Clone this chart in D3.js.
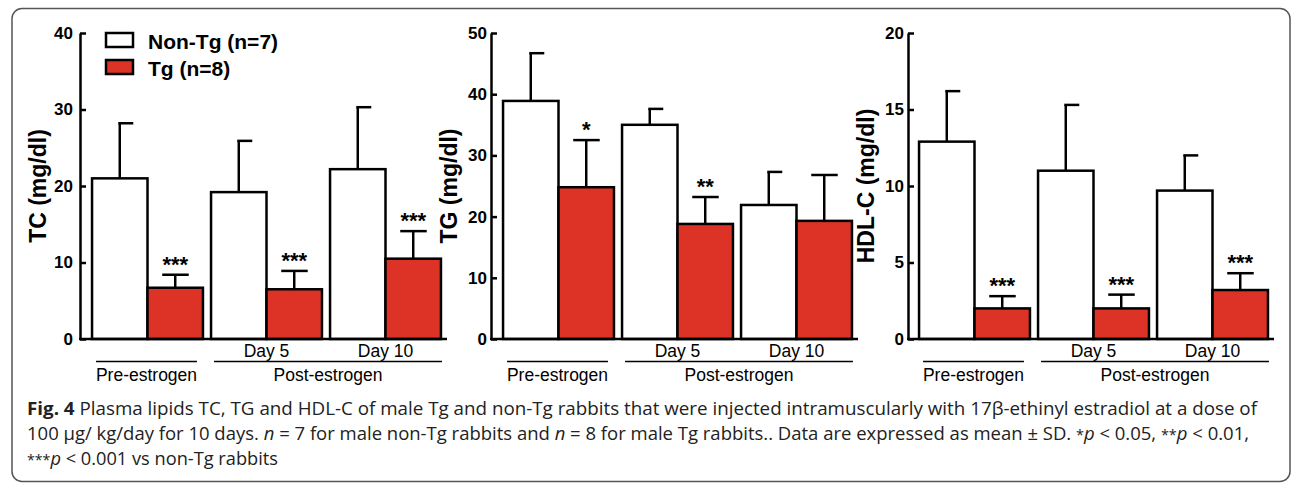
<!DOCTYPE html>
<html>
<head>
<meta charset="utf-8">
<script src="https://cdn.jsdelivr.net/npm/d3@7"></script>
<style>
  body { margin: 0; background: #fff; }
  svg { display: block; }
  .tick text { font-family: "Liberation Sans", Arial, sans-serif; font-weight: bold; font-size: 17px; fill: #000; }
</style>
</head>
<body>
<div id="chart"></div>
<script>
// ---- data ----
const groups = ["Pre-estrogen", "Day 5", "Day 10"];
const seriesNames = ["Non-Tg (n=7)", "Tg (n=8)"];

const tcNonTg = [21.0, 19.2, 22.2];
const tcNonTgSD = [7.2, 6.7, 8.1];
const tcTg = [6.7, 6.5, 10.5];
const tcTgSD = [1.7, 2.4, 3.6];
const tcStars = ["***", "***", "***"];

const tgNonTg = [38.9, 35.0, 21.9];
const tgNonTgSD = [7.8, 2.6, 5.4];
const tgTg = [24.8, 18.8, 19.3];
const tgTgSD = [7.7, 4.4, 7.5];
const tgStars = ["*", "**", ""];

const hdlNonTg = [12.9, 11.0, 9.7];
const hdlNonTgSD = [3.3, 4.3, 2.3];
const hdlTg = [2.0, 2.0, 3.2];
const hdlTgSD = [0.8, 0.9, 1.1];
const hdlStars = ["***", "***", "***"];

const yTitles = ["TC (mg/dl)", "TG (mg/dl)", "HDL-C (mg/dl)"];
const yMax = [40, 50, 20];
const yTickStep = [10, 10, 5];

const colors = { "Non-Tg (n=7)": "#ffffff", "Tg (n=8)": "#dd3326" };

const panels = [
    { title: yTitles[0], max: yMax[0], step: yTickStep[0], non: tcNonTg, nonSD: tcNonTgSD, tg: tcTg, tgSD: tcTgSD, stars: tcStars },
    { title: yTitles[1], max: yMax[1], step: yTickStep[1], non: tgNonTg, nonSD: tgNonTgSD, tg: tgTg, tgSD: tgTgSD, stars: tgStars },
    { title: yTitles[2], max: yMax[2], step: yTickStep[2], non: hdlNonTg, nonSD: hdlNonTgSD, tg: hdlTg, tgSD: hdlTgSD, stars: hdlStars }
];

// layout
const W = 1292, H = 483;
const axisX = [80, 491, 908];
const plotLeft = [88, 499, 915];
const plotW = 357;
const tickPad = [7, 4, 4];
const yTop = 33, yBottom = 339;
const font = '"Liberation Sans", Arial, sans-serif';

const svg = d3.select('#chart').append('svg')
    .attr('width', W)
    .attr('height', H);

// rounded frame
svg.append('rect')
    .attr('x', 12).attr('y', 8.5)
    .attr('width', 1278).attr('height', 473)
    .attr('rx', 10)
    .attr('fill', 'none')
    .attr('stroke', '#555')
    .attr('stroke-width', 1.5);

panels.forEach((p, i) => {
    let g = svg.append('g');

    let yScale = d3.scaleLinear()
        .domain([0, p.max])
        .range([yBottom, yTop]);

    let xScale = d3.scaleBand()
        .domain(groups)
        .range([plotLeft[i], plotLeft[i] + plotW])
        .paddingInner(0.068)
        .paddingOuter(0.034);

    let xSub = d3.scaleBand()
        .domain(seriesNames)
        .range([0, xScale.bandwidth()]);

    let rows = [];
    groups.forEach((grp, j) => {
        rows.push({ group: grp, series: seriesNames[0], mean: p.non[j], sd: p.nonSD[j], star: "" });
        rows.push({ group: grp, series: seriesNames[1], mean: p.tg[j], sd: p.tgSD[j], star: p.stars[j] });
    });

    // error bars (drawn first so bar outline sits on top)
    rows.forEach(d => {
        let cx = xScale(d.group) + xSub(d.series) + xSub.bandwidth() / 2;
        let top = yScale(d.mean + d.sd);
        g.append('line')
            .attr('x1', cx).attr('x2', cx)
            .attr('y1', yScale(d.mean)).attr('y2', top)
            .attr('stroke', '#000').attr('stroke-width', 2.5);
        let c0 = d.series === seriesNames[0] ? cx - 1.5 : cx - 13;
        g.append('line')
            .attr('x1', c0).attr('x2', cx + 13.5)
            .attr('y1', top).attr('y2', top)
            .attr('stroke', '#000').attr('stroke-width', 2.5);
        if (d.star) {
            g.append('text')
                .attr('x', cx).attr('y', top - 3)
                .attr('text-anchor', 'middle')
                .attr('font-family', font)
                .attr('font-weight', 'bold')
                .attr('font-size', 22)
                .text(d.star);
        }
    });

    g.selectAll('rect.bar')
        .data(rows)
        .enter()
        .append('rect')
        .attr('class', 'bar')
        .attr('x', d => xScale(d.group) + xSub(d.series))
        .attr('y', d => yScale(d.mean))
        .attr('width', xSub.bandwidth())
        .attr('height', d => yBottom - yScale(d.mean))
        .attr('fill', d => colors[d.series])
        .attr('stroke', '#000')
        .attr('stroke-width', 2.5);

    // y axis, ticks point inward
    let yAxis = d3.axisLeft(yScale)
        .tickValues(d3.range(0, p.max + 0.001, p.step))
        .tickSizeInner(-6)
        .tickSizeOuter(0)
        .tickPadding(tickPad[i]);

    let yAxisGroup = svg.append('g')
        .attr('class', 'axis y-axis')
        .attr('transform', `translate(${axisX[i]}, 0)`)
        .call(yAxis);
    yAxisGroup.selectAll('path, line')
        .attr('stroke', '#000')
        .attr('stroke-width', 2.5);

    // x axis baseline
    svg.append('line')
        .attr('x1', axisX[i] - 1).attr('x2', plotLeft[i] + plotW + 2)
        .attr('y1', yBottom).attr('y2', yBottom)
        .attr('stroke', '#000').attr('stroke-width', 2.5);

    // y axis title
    svg.append('text')
        .attr('transform', `translate(${axisX[i] - 34}, ${(yTop + yBottom) / 2}) rotate(-90)`)
        .attr('text-anchor', 'middle')
        .attr('font-family', font)
        .attr('font-weight', 'bold')
        .attr('font-size', 23)
        .text(p.title);

    // day labels
    groups.slice(1).forEach(grp => {
        svg.append('text')
            .attr('x', xScale(grp) + xScale.bandwidth() / 2)
            .attr('y', 357)
            .attr('text-anchor', 'middle')
            .attr('font-family', font)
            .attr('font-size', 17.5)
            .text(grp);
    });

    // period brackets
    let preX0 = xScale(groups[0]) + 4, preX1 = xScale(groups[0]) + xScale.bandwidth() - 6;
    let postX0 = xScale(groups[1]) + 3, postX1 = xScale(groups[2]) + xScale.bandwidth() + 1;
    [[preX0, preX1, "Pre-estrogen"], [postX0, postX1, "Post-estrogen"]].forEach(b => {
        svg.append('line')
            .attr('x1', b[0]).attr('x2', b[1])
            .attr('y1', 361.5).attr('y2', 361.5)
            .attr('stroke', '#000').attr('stroke-width', 1.3);
        svg.append('text')
            .attr('x', (b[0] + b[1]) / 2)
            .attr('y', 381)
            .attr('text-anchor', 'middle')
            .attr('font-family', font)
            .attr('font-size', 17.5)
            .text(b[2]);
    });
});

// legend (first panel)
seriesNames.forEach((s, k) => {
    let ly = [33, 60][k];
    svg.append('rect')
        .attr('x', 106).attr('y', ly)
        .attr('width', 27).attr('height', 14)
        .attr('fill', colors[s])
        .attr('stroke', '#000')
        .attr('stroke-width', 2.5);
    svg.append('text')
        .attr('x', 148).attr('y', ly + 16)
        .attr('font-family', font)
        .attr('font-weight', 'bold')
        .attr('font-size', 21)
        .text(s);
});

// caption; "s" parts are the small raised asterisks
const capFont = '"Open Sans", "Noto Sans", sans-serif';
const capLines = [
    { y: 415, len: 1230, parts: [["Fig. 4", "b"], [" Plasma lipids TC, TG and HDL-C of male Tg and non-Tg rabbits that were injected intramuscularly with 17β-ethinyl estradiol at a dose of", ""]] },
    { y: 440, len: 1222, parts: [["100 μg/ kg/day for 10 days. ", ""], ["n", "i"], [" = 7 for male non-Tg rabbits and ", ""], ["n", "i"], [" = 8 for male Tg rabbits.. Data are expressed as mean ± SD. ", ""], ["*", "s"], ["p", "i"], [" < 0.05, ", ""], ["**", "s"], ["p", "i"], [" < 0.01,", ""]] },
    { y: 465, len: 251, parts: [["***", "s"], ["p", "i"], [" < 0.001 vs non-Tg rabbits", ""]] }
];
capLines.forEach(l => {
    let t = svg.append('text')
        .attr('x', 27).attr('y', l.y)
        .attr('font-family', capFont)
        .attr('font-size', 18)
        .attr('fill', '#222')
        .attr('textLength', l.len)
        .attr('lengthAdjust', 'spacingAndGlyphs');
    l.parts.forEach(pt => {
        t.append('tspan')
            .attr('font-weight', pt[1] === 'b' ? 'bold' : null)
            .attr('font-style', pt[1] === 'i' ? 'italic' : null)
            .attr('font-size', pt[1] === 's' ? 14 : null)
            .text(pt[0]);
    });
});
</script>
</body>
</html>
